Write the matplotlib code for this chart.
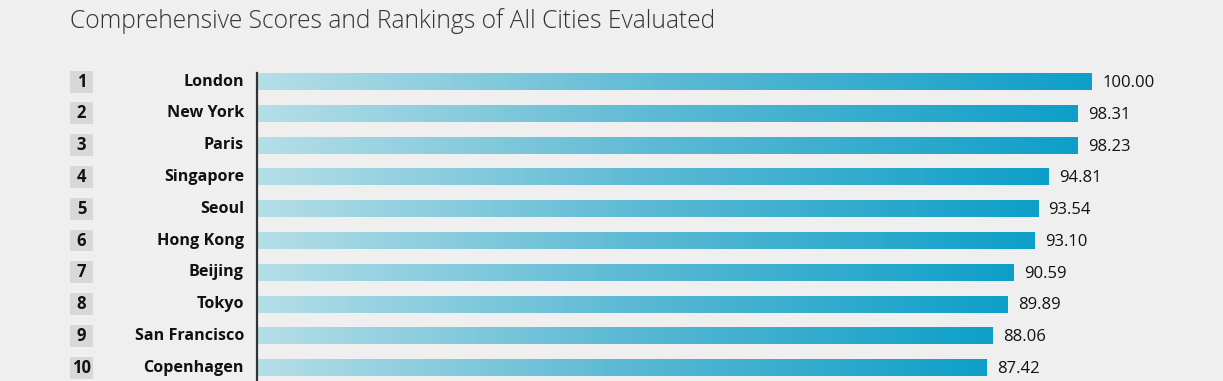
import numpy as np
import matplotlib.pyplot as plt
from matplotlib.colors import LinearSegmentedColormap
from matplotlib.patches import Rectangle

plt.rcParams['font.family'] = ['Open Sans', 'DejaVu Sans']

# data
ranks = [1, 2, 3, 4, 5, 6, 7, 8, 9, 10]
cities = ["London", "New York", "Paris", "Singapore", "Seoul",
          "Hong Kong", "Beijing", "Tokyo", "San Francisco", "Copenhagen"]
scores = [100.00, 98.31, 98.23, 94.81, 93.54, 93.10, 90.59, 89.89, 88.06, 87.42]
title = "Comprehensive Scores and Rankings of All Cities Evaluated"

bg = "#efefef"
cmap = LinearSegmentedColormap.from_list("bars", ["#b5dee7", "#5bb9d4", "#0e9fc8"])
grad = np.linspace(0, 1, 256).reshape(1, -1)
hbar = 0.53

fig = plt.figure(figsize=(12.23, 3.81), dpi=100)
fig.patch.set_facecolor(bg)

W, H = 1223, 381
ax = fig.add_axes([257 / W, 0, 835 / W, 308 / H])
ax.set_facecolor("none")

ys = -np.arange(len(cities))
for y, v, c, r in zip(ys, scores, cities, ranks):
    # gradient bar
    ax.imshow(grad, cmap=cmap, aspect="auto", interpolation="bicubic",
              extent=[0, v, y - hbar / 2, y + hbar / 2], zorder=2)
    # value label
    ax.annotate("%.2f" % v, (v, y), xytext=(7.5, -1), textcoords="offset points",
                ha="left", va="center", fontsize=12, color="#111111",
                annotation_clip=False)
    # city name
    ax.text(-13 / 835, y, c, transform=ax.get_yaxis_transform(), ha="right",
            va="center", fontsize=11.6, fontweight="bold", color="#111111")
    # rank box
    ax.add_patch(Rectangle((-187 / 835, y - 0.345), 23 / 835, 0.69,
                           transform=ax.get_yaxis_transform(), facecolor="#d8d8d8",
                           edgecolor="none", clip_on=False))
    ax.text(-175.5 / 835, y, str(r), transform=ax.get_yaxis_transform(),
            ha="center", va="center", fontsize=12, fontweight="bold", color="#111111")

ax.set_xlim(0, 100)
ax.set_ylim(-9.42, 0.27)
ax.set_xticks([])
ax.set_yticks([])
for s in ["top", "right", "bottom"]:
    ax.spines[s].set_visible(False)
ax.spines["left"].set_color("#333333")
ax.spines["left"].set_linewidth(1.6)

fig.text(70 / W, 1 - 28 / H, title, ha="left", va="baseline", fontsize=17.7,
         fontweight="light", color="#333333")

fig.savefig("out.png", dpi=100, facecolor=bg)
